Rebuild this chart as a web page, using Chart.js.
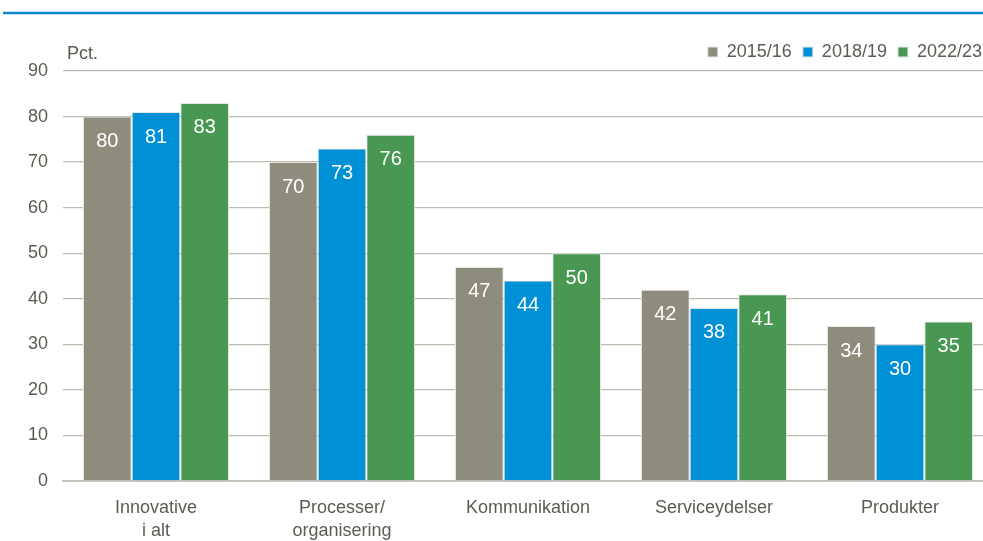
<!DOCTYPE html>
<html>
<head>
<meta charset="utf-8">
<script src="https://cdn.jsdelivr.net/npm/chart.js@4"></script>
<style>
	html, body { margin: 0; padding: 0; background: #fff; overflow: hidden; }
	#wrap { width: 1000px; height: 541px; position: relative; }
</style>
</head>
<body>
<div id="wrap"><canvas id="innovation" width="1000" height="541"></canvas></div>
<script>
// categories and series
const categories = [["Innovative", "i alt"], ["Processer/", "organisering"], "Kommunikation", "Serviceydelser", "Produkter"];
const years = ["2015/16", "2018/19", "2022/23"];
const values1516 = [80, 70, 47, 42, 34];
const values1819 = [81, 73, 44, 38, 30];
const values2223 = [83, 76, 50, 41, 35];
const yTicks = [0, 10, 20, 30, 40, 50, 60, 70, 80, 90];

const colours = ["#8e8c7d", "#0090d5", "#489853"];
const textColour = "#5c5b52";
const fontFamily = "'Liberation Sans Narrow', 'Arial Narrow', 'Liberation Sans', Arial, sans-serif";

// draws blue rule at the top, the "Pct." unit and the white value labels
const extrasPlugin = {
	id: "extras",
	afterDatasetsDraw(chart) {
		const ctx = chart.ctx;
		const yScale = chart.scales.y;
		ctx.save();
		// rule under the (cut off) heading
		ctx.strokeStyle = "#0a89c9";
		ctx.lineWidth = 2.5;
		ctx.beginPath();
		ctx.moveTo(3, 13);
		ctx.lineTo(1000, 13);
		ctx.stroke();
		// unit label
		ctx.fillStyle = textColour;
		ctx.font = "18px " + fontFamily;
		ctx.textAlign = "left";
		ctx.textBaseline = "middle";
		ctx.fillText("Pct.", chart.chartArea.left + 4, yScale.getPixelForValue(90) - 17);
		// value labels inside bars
		ctx.fillStyle = "#ffffff";
		ctx.font = "20px " + fontFamily;
		ctx.textAlign = "center";
		chart.data.datasets.forEach((ds, i) => {
			chart.getDatasetMeta(i).data.forEach((bar, j) => {
				ctx.fillText(Math.round(ds.data[j]).toString(), bar.x, bar.y + 25);
			});
		});
		ctx.restore();
	},
};

const ctx = document.getElementById("innovation");
new Chart(ctx, {
	type: "bar",
	data: {
		labels: categories,
		datasets: [
			{ label: years[0], data: values1516, backgroundColor: colours[0] },
			{ label: years[1], data: values1819, backgroundColor: colours[1] },
			{ label: years[2], data: values2223, backgroundColor: colours[2] },
		].map((ds) => Object.assign(ds, {
			borderColor: "#e6e6e2",
			borderWidth: 1,
			categoryPercentage: 0.785,
			barPercentage: 1.0,
		})),
	},
	options: {
		responsive: false,
		animation: false,
		layout: { padding: { top: 32, right: 7, left: 0, bottom: 0 } },
		scales: {
			x: {
				grid: { display: false },
				border: { color: "#c4c3bb", width: 2 },
				ticks: {
					color: textColour,
					font: { family: fontFamily, size: 18, lineHeight: 1.3 },
					padding: 7,
					maxRotation: 0,
					autoSkip: false,
				},
				afterFit: (scale) => { scale.height = 60; },
			},
			y: {
				min: 0,
				max: 90,
				afterBuildTicks: (scale) => {
					scale.ticks = yTicks.map((v) => ({ value: v }));
				},
				grid: { color: "#bdbbb0", lineWidth: 1.3, drawTicks: false },
				border: { display: false },
				ticks: {
					color: textColour,
					font: { family: fontFamily, size: 18 },
					padding: 15,
				},
				afterFit: (scale) => { scale.width = 63; },
			},
		},
		plugins: {
			legend: {
				position: "top",
				align: "end",
				labels: {
					color: textColour,
					font: { family: fontFamily, size: 18 },
					boxWidth: 10,
					boxHeight: 10,
					padding: 11,
				},
			},
			tooltip: { enabled: false },
		},
	},
	plugins: [extrasPlugin],
});
</script>
</body>
</html>
